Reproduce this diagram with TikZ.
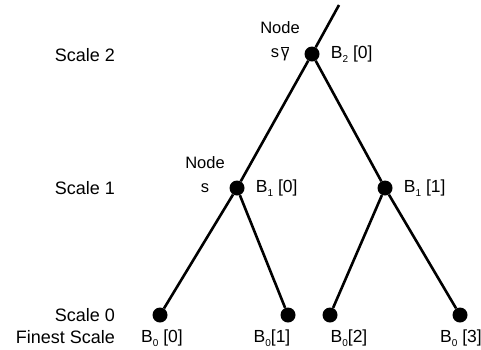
\documentclass[tikz,border=0pt]{standalone}
\usepackage{fontspec}
\setmainfont{Liberation Sans}
\usetikzlibrary{positioning}
\newcommand{\lowsub}[1]{\raisebox{-3.5pt}{\fontsize{10}{10}\selectfont#1}}
\tikzset{
  treeedge/.style={line width=2.6pt, draw=black},
  treedot/.style={circle, fill=black, inner sep=0pt, minimum size=15pt},
  scalelbl/.style={anchor=east, inner sep=0pt, font=\fontsize{18}{20}\selectfont},
  blbl/.style={inner sep=0pt, font=\fontsize{17.5}{20}\selectfont},
}
\begin{document}
\begin{tikzpicture}[
  x=1pt, y=-1pt,
  nodelbl/.style={align=center, inner sep=0pt, font=\fontsize{16.5}{24}\selectfont},
]
  \useasboundingbox (0,0) rectangle (481,349);
  % tree dots
  \node[treedot] (b2) at (312,54) {};
  \node[treedot] (b10) at (237,188) {};
  \node[treedot] (b11) at (385,188) {};
  \node[treedot] (b00) at (160,315) {};
  \node[treedot] (b01) at (288,315) {};
  \node[treedot] (b02) at (330,315) {};
  \node[treedot] (b03) at (460,315) {};
  \coordinate (top) at (339,5);
  \foreach \a/\b in {top/b2, b2/b10, b2/b11, b10/b00, b10/b01, b11/b02, b11/b03}
    \draw[treeedge] (\a) -- (\b);
  % scale names
  \node[scalelbl] (sc2) at (115,55) {Scale 2};
  \node[scalelbl] (sc1) at (115,188) {Scale 1};
  \node[scalelbl] (sc0) at (115,315) {Scale 0};
  \node[scalelbl] (fine) at (115,337) {Finest Scale};
  % node labels
  \node[nodelbl] (n2) at (280,41) {Node\\s\kern2pt$\overline{\hbox{γ}}$};
  \node[nodelbl] (n1) at (205,175) {Node\\s};
  \node[blbl, right=11pt of b2] (l2) {B\lowsub{2} [0]};
  \node[blbl, right=11pt of b10] (l10) {B\lowsub{1} [0]};
  \node[blbl, right=11pt of b11] (l11) {B\lowsub{1} [1]};
  \node[blbl, below=7pt of b00, xshift=2pt] (l00) {B\lowsub{0} [0]};
  \node[blbl, below=7pt of b01, xshift=-16pt] (l01) {B\lowsub{0}[1]};
  \node[blbl, below=7pt of b02, xshift=19pt] (l02) {B\lowsub{0}[2]};
  \node[blbl, below=7pt of b03, xshift=1pt] (l03) {B\lowsub{0} [3]};
\end{tikzpicture}
\end{document}
